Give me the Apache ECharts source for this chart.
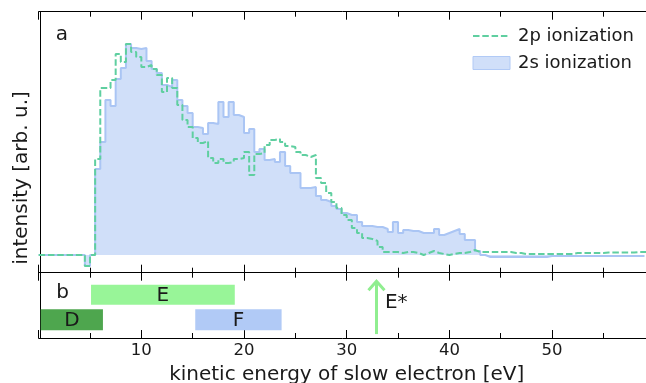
<!DOCTYPE html>
<html><head><meta charset="utf-8">
<script src="https://cdn.jsdelivr.net/npm/echarts@6/dist/echarts.min.js"></script>
<style>html,body{margin:0;padding:0;background:#fff}#c{width:646px;height:383px}</style>
</head><body><div id="c"></div>
<script>
// ---- data ----
const binStart = 0;      // eV, left edge of first histogram bin
const binWidth = 0.5;    // eV
const ion2s = [0,0,0,0,0,0,0,0,0,-11,0,86,113,155,149,176,187,211,207,206,
  207,194,186,182,170,168,175,155,149,142,128,127,121,132,131,153,138,153,140,138,
  122,126,103,106,95,96,93,103,89,82,82,67,67,68,59,55,53,49,46,42,
  40,40,33,29,29,28,28,26,23,33,22,25,24,24,22,22,22,26,20,22,
  24,26,21,15,15,4,0,-2,-2,-2,-2,-2,-2,-2,-2,-2,-2,-2,-2,-1,
  -1,-1,-1,-1,-1,-1,-1,-1,-1,-1,-1,-1,-1,-1,-1,-1,-1,-1];
const ion2p = [0,0,0,0,0,0,0,0,0,-11,0,96,167,167,175,201,193,211,203,198,
  188,190,186,180,163,177,167,150,135,128,117,112,114,97,92,96,92,93,96,97,
  103,80,101,102,110,115,116,113,109,108,103,100,98,100,77,72,62,53,47,40,
  35,27,22,17,16,14,8,3,3,3,2,3,3,2,0,2,4,2,1,0,
  1,2,2,3,5,3,3,3,3,3,3,3,2,2,1,1,1,1,1,1,
  1,1,1,1,2,2,2,2,2,2,2.5,2.5,2.5,2.5,2.5,2.5,3,3,3];
const bandNames = ['E', 'D', 'F'];
const bandStart = [5.1, 0.2, 15.25];
const bandEnd = [19.1, 6.26, 23.66];
const bandRow = [1, 0, 0];
const eStarEnergy = 32.9;
const seriesNames = ['2p ionization', '2s ionization'];

// ---- styling ----
const FONT = 'DejaVu Sans';
const TXT = '#1a1a1a';
const bandColors = ['#98f598', '#4ea64e', '#b1caf6'];
const rowBottom = [0.118, 0.51];
const rowTop = [0.44, 0.816];

function steps(vals) {
  const pts = vals.map((v, i) => [binStart + i * binWidth, v]);
  pts.push([binStart + vals.length * binWidth, vals[vals.length - 1]]);
  return pts;
}

const tickCommon = {
  type: 'value', min: 0, max: 60, interval: 10,
  axisLine: { show: true, onZero: false, lineStyle: { color: '#000', width: 1 } },
  axisTick: { show: true, inside: true, length: 8, lineStyle: { color: '#000', width: 1 } },
  minorTick: { show: true, splitNumber: 2, length: 5, lineStyle: { color: '#000', width: 1 } },
  splitLine: { show: false }, minorSplitLine: { show: false },
  axisLabel: { show: false }
};
function xa(grid, pos, extra) { return Object.assign({}, tickCommon, { gridIndex: grid, position: pos }, extra || {}); }

const chart = echarts.init(document.getElementById('c'), null, { renderer: 'canvas' });
chart.setOption({
  animation: false,
  backgroundColor: '#fff',
  grid: [
    { left: 38.66, top: 11.7, height: 261, width: 616.1, outerBoundsMode: 'none', containLabel: false },
    { left: 38.66, top: 272.7, height: 65.3, width: 616.1, outerBoundsMode: 'none', containLabel: false }
  ],
  xAxis: [
    xa(0, 'bottom'),
    xa(0, 'top'),
    xa(1, 'top'),
    xa(1, 'bottom', {
      axisLabel: { show: true, margin: 4, fontSize: 16.5, fontFamily: FONT, color: TXT,
        formatter: v => (v === 0 || v === 60) ? '' : String(v) },
      name: 'kinetic energy of slow electron [eV]', nameLocation: 'middle', nameGap: 27,
      nameTextStyle: { fontSize: 20, fontFamily: FONT, color: TXT }
    })
  ],
  yAxis: [
    { type: 'value', gridIndex: 0, min: -17.7, max: 243.3, offset: -2,
      axisLine: { show: true, lineStyle: { color: '#000', width: 1 } },
      axisTick: { show: false }, axisLabel: { show: false }, splitLine: { show: false } },
    { type: 'value', gridIndex: 1, min: 0, max: 1, offset: -2,
      axisLine: { show: true, lineStyle: { color: '#000', width: 1 } },
      axisTick: { show: false }, axisLabel: { show: false }, splitLine: { show: false } }
  ],
  legend: {
    orient: 'vertical', left: 467, top: 22, itemWidth: 37, itemHeight: 13, itemGap: 9,
    selectedMode: false,
    textStyle: { fontSize: 18, fontFamily: FONT, color: TXT, padding: [0, 0, 0, 3] },
    data: [
      { name: seriesNames[0], itemStyle: { opacity: 0 } },
      { name: seriesNames[1], icon: 'rect', itemStyle: { color: '#d0dff9', borderColor: '#b1caf6', borderWidth: 1 } }
    ]
  },
  series: [
    { name: seriesNames[1], type: 'line', xAxisIndex: 0, yAxisIndex: 0, step: 'end',
      data: steps(ion2s), showSymbol: false, symbol: 'none',
      lineStyle: { color: '#aac5f4', width: 2 },
      itemStyle: { color: '#aac5f4' },
      areaStyle: { color: '#d0dff9', opacity: 1 }, z: 2 },
    { name: seriesNames[0], type: 'line', xAxisIndex: 0, yAxisIndex: 0, step: 'end',
      data: steps(ion2p), showSymbol: false, symbol: 'none',
      lineStyle: { color: '#5fcfa0', width: 2, type: [6.5, 2.8] },
      itemStyle: { color: '#5fcfa0' }, z: 3 },
    { type: 'custom', xAxisIndex: 3, yAxisIndex: 1, silent: true,
      data: bandNames.map((n, i) => [bandStart[i], bandEnd[i], bandRow[i], i]),
      renderItem: function (params, api) {
        const i = api.value(3), row = api.value(2);
        const p0 = api.coord([api.value(0), rowTop[row]]);
        const p1 = api.coord([api.value(1), rowBottom[row]]);
        return { type: 'group', children: [
          { type: 'rect', shape: { x: p0[0], y: p0[1], width: p1[0] - p0[0], height: p1[1] - p0[1] },
            style: { fill: bandColors[i] } },
          { type: 'text', style: { text: bandNames[i], x: (p0[0] + p1[0]) / 2, y: (p0[1] + p1[1]) / 2 + 1,
            align: 'center', verticalAlign: 'middle', fontSize: 20, fontFamily: FONT, fill: TXT } }
        ] };
      } },
    { type: 'custom', xAxisIndex: 3, yAxisIndex: 1, silent: true,
      data: [[eStarEnergy]],
      renderItem: function (params, api) {
        const b = api.coord([api.value(0), 0.06]);
        const t = api.coord([api.value(0), 0.87]);
        const m = api.coord([api.value(0), 0.536]);
        const st = { stroke: '#90ee90', lineWidth: 3, fill: null };
        return { type: 'group', children: [
          { type: 'line', shape: { x1: b[0], y1: b[1], x2: t[0], y2: t[1] + 1 }, style: st },
          { type: 'polyline', shape: { points: [[t[0] - 8, t[1] + 9], [t[0], t[1]], [t[0] + 8, t[1] + 9]] }, style: st },
          { type: 'text', style: { text: 'E*', x: t[0] + 8.5, y: m[1], align: 'left', verticalAlign: 'middle',
            fontSize: 20, fontFamily: FONT, fill: TXT } }
        ] };
      } }
  ],
  graphic: [
    { type: 'text', x: 62, y: 35, style: { text: 'a', align: 'center', verticalAlign: 'middle', fontSize: 20, fontFamily: FONT, fill: TXT } },
    { type: 'text', x: 62.5, y: 293, style: { text: 'b', align: 'center', verticalAlign: 'middle', fontSize: 20, fontFamily: FONT, fill: TXT } },
    { type: 'text', x: 22, y: 178, rotation: Math.PI / 2,
      style: { text: 'intensity [arb. u.]', align: 'center', verticalAlign: 'middle', fontSize: 20, fontFamily: FONT, fill: TXT } }
  ]
});
</script></body></html>
